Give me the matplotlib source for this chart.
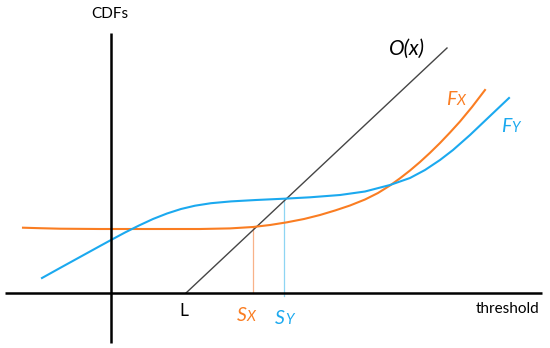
import matplotlib
matplotlib.use("Agg")
import matplotlib.pyplot as plt

# Data coordinates: threshold measured from the CDF axis, CDF value above the threshold axis
# F_X curve (orange)
fx_x = [-88, -71, -51, -11, 39, 89, 119, 142, 159, 176, 193, 209, 224, 239, 254, 267,
        279, 289, 299, 309, 319, 329, 339, 349, 361, 374]
fx_y = [65.3, 64.8, 64.3, 64, 64, 64, 64.6, 66, 68, 70.7, 74, 78, 82.5, 87.5, 93.5, 100,
        107.5, 114.7, 122.5, 131, 140.2, 150, 160.5, 171.5, 186, 203]

# F_Y curve (blue)
fy_x = [-69, -51, -31, -11, 0, 14, 28, 42, 56, 70, 84, 100, 120, 145, 173, 199, 229,
        254, 279, 299, 314, 329, 342, 359, 379, 398]
fy_y = [15, 25, 36, 47, 53, 60.5, 67.5, 74, 79.5, 84, 87.3, 89.8, 91.6, 93, 94.3, 95.7, 98,
        101.5, 108, 115, 123, 133, 143, 158, 177, 195]

# O(x) line, starting at L
o_x = [75, 336]
o_y = [0, 245]

# thresholds S_X and S_Y
sx = 142
sx_top = 66
sy = 173
sy_top = 94

# axis extents
x_axis = [-106, 431]
y_axis = [-50, 260]

ORANGE = "#FA7D22"
BLUE = "#1BA9EF"
GREY = "#454545"

plt.rcParams["font.family"] = ["Lato", "DejaVu Sans"]

fig = plt.figure(figsize=(5.5, 3.48), dpi=100)
ax = fig.add_axes([0, 0, 1, 1])
ax.set_xlim(-111, 439)
ax.set_ylim(-55, 293)
ax.axis("off")

# axes
ax.plot(x_axis, [0, 0], color="black", lw=1.8, solid_capstyle="butt", zorder=5)
ax.plot([0, 0], y_axis, color="black", lw=1.8, solid_capstyle="butt", zorder=5)

# threshold markers
ax.plot([sx, sx], [0, sx_top], color="#F8B289", lw=0.9, zorder=2)
ax.plot([sy, sy], [-3, sy_top], color="#8ED5F3", lw=0.9, zorder=2)

# O(x)
ax.plot(o_x, o_y, color=GREY, lw=1.0, zorder=3)

# CDFs
ax.plot(fx_x, fx_y, color=ORANGE, lw=1.5, zorder=4, solid_joinstyle="round")
ax.plot(fy_x, fy_y, color=BLUE, lw=1.5, zorder=4, solid_joinstyle="round")

# labels
ax.text(-1, 279, "CDFs", ha="center", va="center", fontsize=11)
ax.text(397, -16, "threshold", ha="center", va="center", fontsize=11)
ax.text(73, -18, "L", ha="center", va="center", fontsize=12.5)
ax.text(296, 244, "O(x)", ha="center", va="center", fontsize=15, style="italic")


def small_cap_label(x, y, big, small, color):
    ax.text(x, y, big, ha="right", va="baseline", fontsize=14, style="italic", color=color)
    ax.text(x, y, small, ha="left", va="baseline", fontsize=10.5, style="italic", color=color)


small_cap_label(136, -28, "S", "X", ORANGE)
small_cap_label(174, -31, "S", "Y", BLUE)
small_cap_label(345, 188, "F", "X", ORANGE)
small_cap_label(400, 161, "F", "Y", BLUE)

fig.savefig("out.png", dpi=100)
